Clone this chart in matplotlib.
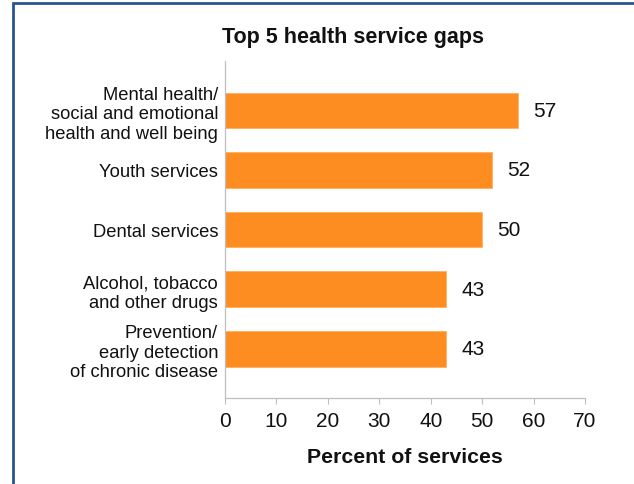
import matplotlib
matplotlib.use('Agg')
import matplotlib.pyplot as plt
from matplotlib.patches import Rectangle

plt.rcParams['font.family'] = ['Liberation Sans', 'DejaVu Sans']

categories = ['Mental health/\nsocial and emotional\nhealth and well being',
              'Youth services',
              'Dental services',
              'Alcohol, tobacco\nand other drugs',
              'Prevention/\nearly detection\nof chronic disease']
values = [57, 52, 50, 43, 43]
xticks = [0, 10, 20, 30, 40, 50, 60, 70]

W, H = 634, 485
fig = plt.figure(figsize=(W / 100, H / 100), dpi=100)

# frame line around the chart (runs off the right and bottom edges)
fig.patches.append(Rectangle((12.5 / W, -0.2), 1.5, 1.2 - 4 / H,
                             transform=fig.transFigure, fill=False,
                             edgecolor='#2A5490', linewidth=2.0))

ax = fig.add_axes([225 / W, 1 - 398.5 / H, 360 / W, (398.5 - 62) / H])

pos = list(range(len(categories)))
ax.barh(pos, values, height=0.6, color='#FD8D21', edgecolor='#FFB060', linewidth=0.6)
for p, v in zip(pos, values):
    ax.text(v + 2.9, p, str(v), va='center', ha='left', fontsize=15, color='#111111')

ax.set_xlim(0, 70)
ax.set_ylim(4.82, -0.83)
ax.set_xticks(xticks)
ax.set_xticklabels([str(t) for t in xticks], fontsize=15, color='#111111')
ax.set_yticks(pos)
ax.set_yticklabels(categories, fontsize=13.2, color='#111111',
                   multialignment='right', linespacing=1.22)
ax.tick_params(axis='y', length=0, pad=5)
ax.tick_params(axis='x', length=4, width=0.8, color='#BFBFBF', pad=6)

for s in ['top', 'right']:
    ax.spines[s].set_visible(False)
for s in ['left', 'bottom']:
    ax.spines[s].set_color('#BFBFBF')
    ax.spines[s].set_linewidth(0.9)

fig.text(353 / W, 1 - 43.5 / H, 'Top 5 health service gaps', ha='center', va='baseline',
         fontsize=15.5, fontweight='bold', color='#111111')
fig.text(405 / W, 1 - 463 / H, 'Percent of services', ha='center', va='baseline',
         fontsize=15.3, fontweight='bold', color='#111111')

fig.savefig('out.png', dpi=100)
